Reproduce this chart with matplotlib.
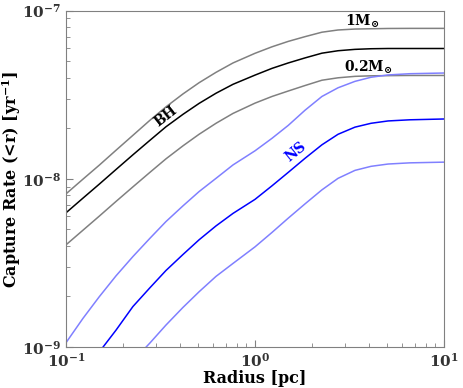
import numpy as np
import matplotlib
matplotlib.use("Agg")
import matplotlib.pyplot as plt

plt.rcParams["font.family"] = "DejaVu Serif"
plt.rcParams["font.weight"] = "bold"
plt.rcParams["mathtext.fontset"] = "dejavuserif"
plt.rcParams["mathtext.default"] = "bf"

# radius samples [pc]
radius = [0.1, 0.123, 0.15, 0.184, 0.226, 0.278, 0.338, 0.416, 0.506, 0.622, 0.765,
          1.0, 1.23, 1.5, 1.84, 2.26, 2.75, 3.38, 4.11, 5.06, 6.6, 10.0]

# black holes: 1 Msun, BH, 0.2 Msun  [yr^-1]
bh_1msun = [8.14e-9, 9.96e-9, 1.206e-8, 1.48e-8, 1.815e-8, 2.23e-8, 2.68e-8, 3.20e-8, 3.73e-8, 4.30e-8, 4.89e-8,
            5.58e-8, 6.10e-8, 6.57e-8, 7.01e-8, 7.45e-8, 7.68e-8, 7.78e-8, 7.81e-8, 7.84e-8, 7.85e-8, 7.85e-8]
bh_mid = [6.28e-9, 7.68e-9, 9.30e-9, 1.137e-8, 1.39e-8, 1.695e-8, 2.04e-8, 2.42e-8, 2.81e-8, 3.23e-8, 3.65e-8,
          4.14e-8, 4.54e-8, 4.89e-8, 5.24e-8, 5.59e-8, 5.78e-8, 5.89e-8, 5.94e-8, 5.96e-8, 5.96e-8, 5.96e-8]
bh_02msun = [4.05e-9, 4.95e-9, 6.00e-9, 7.34e-9, 8.96e-9, 1.093e-8, 1.315e-8, 1.572e-8, 1.841e-8, 2.14e-8, 2.45e-8,
             2.82e-8, 3.09e-8, 3.33e-8, 3.59e-8, 3.86e-8, 3.99e-8, 4.07e-8, 4.10e-8, 4.11e-8, 4.12e-8, 4.12e-8]

# neutron stars: upper, NS, lower  [yr^-1]
ns_upper = [1.06e-9, 1.48e-9, 1.99e-9, 2.65e-9, 3.45e-9, 4.43e-9, 5.57e-9, 6.91e-9, 8.40e-9, 1.007e-8, 1.21e-8,
            1.468e-8, 1.742e-8, 2.08e-8, 2.56e-8, 3.09e-8, 3.48e-8, 3.80e-8, 4.02e-8, 4.15e-8, 4.22e-8, 4.26e-8]
ns_mid = [np.nan, np.nan, 9.34e-10, 1.26e-9, 1.74e-9, 2.25e-9, 2.85e-9, 3.55e-9, 4.34e-9, 5.25e-9, 6.23e-9,
          7.55e-9, 9.09e-9, 1.093e-8, 1.325e-8, 1.594e-8, 1.841e-8, 2.03e-8, 2.14e-8, 2.21e-8, 2.245e-8, 2.27e-8]
ns_lower = [np.nan, np.nan, np.nan, np.nan, 8.25e-10, 1.056e-9, 1.35e-9, 1.72e-9, 2.13e-9, 2.63e-9, 3.14e-9,
            3.94e-9, 4.80e-9, 5.84e-9, 7.10e-9, 8.60e-9, 1.007e-8, 1.123e-8, 1.187e-8, 1.225e-8, 1.245e-8, 1.257e-8]

fig = plt.figure(figsize=(4.64, 3.88), dpi=100)
ax = fig.add_axes([0.1422, 0.1057, 0.8147, 0.8667])

grey = "#808080"
light_blue = "#8080ff"
ax.plot(radius, bh_1msun, color=grey, lw=1.1)
ax.plot(radius, bh_mid, color="black", lw=1.1)
ax.plot(radius, bh_02msun, color=grey, lw=1.1)
ax.plot(radius, ns_upper, color=light_blue, lw=1.1)
ax.plot(radius, ns_mid, color="blue", lw=1.1)
ax.plot(radius, ns_lower, color=light_blue, lw=1.1)

ax.set_xscale("log")
ax.set_yscale("log")
ax.set_xlim(0.1, 10)
ax.set_ylim(1e-9, 1e-7)

# inline labels
ax.text(0.338, 2.37e-8, "BH", rotation=38, ha="center", va="center", fontsize=10, color="black")
ax.text(3.7, 8.6e-8, r"$1M_{\odot}$", ha="center", va="center", fontsize=10, color="black")
ax.text(3.95, 4.58e-8, r"$0.2M_{\odot}$", ha="center", va="center", fontsize=10, color="black")
ax.text(1.65, 1.45e-8, "NS", rotation=39, ha="center", va="center", fontsize=10, color="blue")

ax.set_xlabel("Radius [pc]", fontsize=11.5, fontweight="bold", labelpad=0)
ax.set_ylabel(r"Capture Rate (<r) [yr$^{-1}$]", fontsize=11.5, fontweight="bold", labelpad=-1)

for s in ax.spines.values():
    s.set_color(grey)
ax.tick_params(which="both", direction="in", colors=grey, labelcolor="#333333", labelsize=11)
ax.tick_params(which="major", length=5)
ax.tick_params(which="minor", length=3)

fig.savefig("out.png", dpi=100)
